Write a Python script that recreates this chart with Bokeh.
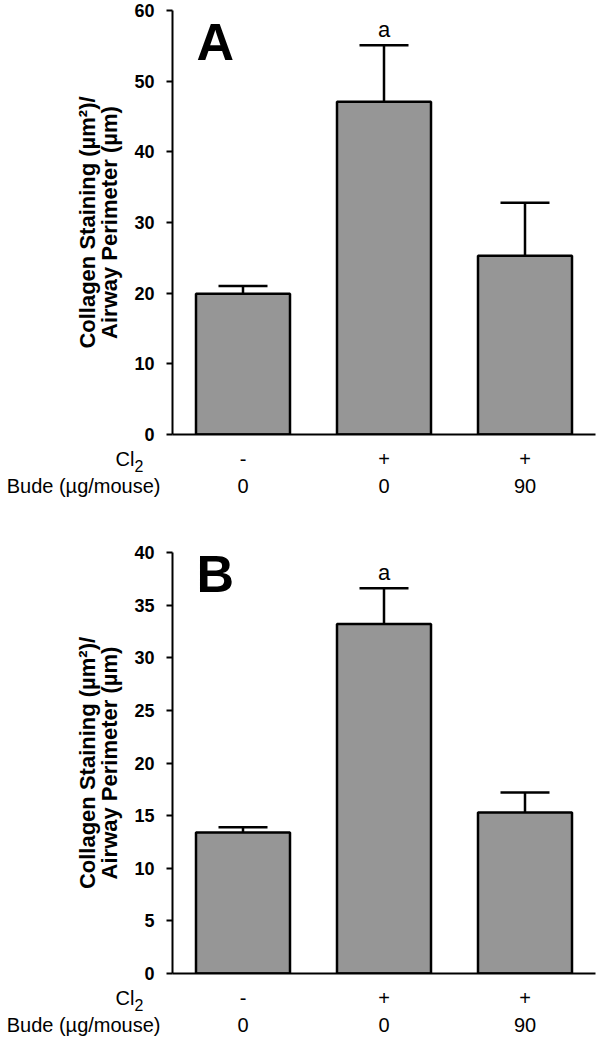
from bokeh.plotting import figure
from bokeh.models import (Range1d, ColumnDataSource, Whisker, TeeHead, LabelSet,
                          Label, FixedTicker)
from bokeh.layouts import column
from bokeh.embed import file_html
from bokeh.resources import INLINE
from bokeh.core.properties import value

# ---------------- data ----------------
x_pos = [0.5, 1.5, 2.5]
cl2_row = ["-", "+", "+"]
bude_row = ["0", "0", "90"]
sig_labels = ["", "a", ""]

a_mean = [19.9, 47.1, 25.3]
a_err = [1.1, 8.0, 7.5]

b_mean = [13.4, 33.2, 15.3]
b_err = [0.5, 3.4, 1.9]

a_ticks = [0, 10, 20, 30, 40, 50, 60]
b_ticks = [0, 5, 10, 15, 20, 25, 30, 35, 40]

YLABEL = "Collagen Staining (µm²)/\nAirway Perimeter (µm)"
ARIAL = "Liberation Sans"

FIG_W = 600
LEFT = 172
FRAME_W = 423
PX_PER_X = FRAME_W / 3.0


def xd(px):  # page pixel -> data x
    return (px - LEFT) / PX_PER_X


def make_panel(mean, err, ticks, letter, top, frame_h, letter_base):
    ymax = ticks[-1]
    bottom = 10
    fig_h = top + frame_h + bottom
    py = ymax / frame_h  # data units per pixel (y)

    p = figure(width=FIG_W, height=fig_h, x_range=Range1d(0, 3),
               y_range=Range1d(0, ymax), output_backend="svg",
               toolbar_location=None, min_border_left=LEFT,
               min_border_right=FIG_W - LEFT - FRAME_W,
               min_border_top=top, min_border_bottom=bottom,
               frame_align=False)
    p.outline_line_color = None
    p.xgrid.visible = False
    p.ygrid.visible = False

    p.xaxis.ticker = FixedTicker(ticks=[])
    p.xaxis.axis_line_width = 2
    p.xaxis.axis_line_color = "black"
    p.xaxis.major_tick_line_color = None
    p.xaxis.minor_tick_line_color = None

    p.yaxis.ticker = FixedTicker(ticks=ticks)
    p.yaxis.axis_line_width = 2
    p.yaxis.axis_line_color = "black"
    p.yaxis.major_tick_line_width = 2
    p.yaxis.major_tick_line_color = "black"
    p.yaxis.major_tick_in = 0
    p.yaxis.major_tick_out = 6
    p.yaxis.minor_tick_line_color = None
    p.yaxis.major_label_text_font = ARIAL
    p.yaxis.major_label_text_font_style = "bold"
    p.yaxis.major_label_text_font_size = "18px"
    p.yaxis.major_label_text_color = "black"
    p.yaxis.major_label_standoff = 12
    p.yaxis.axis_label = YLABEL
    p.yaxis.axis_label_text_font = ARIAL
    p.yaxis.axis_label_text_font_style = "bold"
    p.yaxis.axis_label_text_font_size = "22px"
    p.yaxis.axis_label_text_color = "black"
    p.yaxis.axis_label_text_line_height = 0.88
    p.yaxis.axis_label_standoff = 9

    tops = [m + e for m, e in zip(mean, err)]
    src = ColumnDataSource(dict(x=x_pos, mean=mean, top=tops,
                                sig=sig_labels,
                                sig_y=[t + 8 * py for t in tops]))

    p.vbar(x="x", top="mean", bottom=0, width=94 / PX_PER_X, source=src,
           fill_color="#969696", line_color="black", line_width=2.5)

    p.add_layout(Whisker(base="x", lower="mean", upper="top", source=src,
                         dimension="height", line_color="black", line_width=2.5,
                         upper_head=TeeHead(size=49, line_color="black",
                                            line_width=2.5),
                         lower_head=None))

    p.add_layout(LabelSet(x="x", y="sig_y", text="sig", source=src,
                          text_align="center", text_baseline="alphabetic",
                          text_font=value(ARIAL), text_font_size="22px",
                          text_color="black"))

    p.add_layout(Label(x=xd(196), y=(frame_h - letter_base) * py, text=letter,
                       text_align="left", text_baseline="alphabetic",
                       text_font=ARIAL, text_font_style="bold",
                       text_font_size="52px", text_color="black"))
    return p


def make_rows(height):
    p = figure(width=FIG_W, height=height,
               x_range=Range1d(xd(0), xd(FIG_W)), y_range=Range1d(-height, 0),
               output_backend="svg", toolbar_location=None,
               x_axis_location=None, y_axis_location=None,
               min_border=0, min_border_left=0, min_border_right=0,
               min_border_top=0, min_border_bottom=0, frame_align=False)
    p.outline_line_color = None
    p.xgrid.visible = False
    p.ygrid.visible = False
    r1, r2 = -14, -41
    src = ColumnDataSource(dict(x=x_pos, cl=cl2_row, bude=bude_row,
                                y1=[r1] * 3, y2=[r2] * 3))
    common = dict(text_align="center", text_baseline="middle",
                  text_font=value(ARIAL), text_font_size="20px",
                  text_color="black")
    p.text(x="x", y="y1", text="cl", source=src, **common)
    p.text(x="x", y="y2", text="bude", source=src, **common)
    p.text(x=[xd(134)], y=[r1], text=["Cl"], text_align="right",
           text_baseline="middle", text_font=value(ARIAL),
           text_font_size="20px", text_color="black")
    p.text(x=[xd(134)], y=[r1 - 7], text=["2"], text_align="left",
           text_baseline="middle", text_font=value(ARIAL),
           text_font_size="16px", text_color="black")
    p.text(x=[xd(160)], y=[r2], text=["Bude (µg/mouse)"], text_align="right",
           text_baseline="middle", text_font=value(ARIAL),
           text_font_size="20px", text_color="black")
    return p


pa = make_panel(a_mean, a_err, a_ticks, "A", top=10, frame_h=424, letter_base=31)
ra = make_rows(520 - pa.height)
pb = make_panel(b_mean, b_err, b_ticks, "B", top=32, frame_h=421, letter_base=21)
rb = make_rows(1045 - 520 - pb.height)

layout = column(pa, ra, pb, rb, spacing=0)
html = file_html(layout, INLINE)
html = html.replace("<head>", "<head><style>html,body{margin:0;padding:0;overflow:hidden;}</style>", 1)
open("out.html", "w").write(html)
